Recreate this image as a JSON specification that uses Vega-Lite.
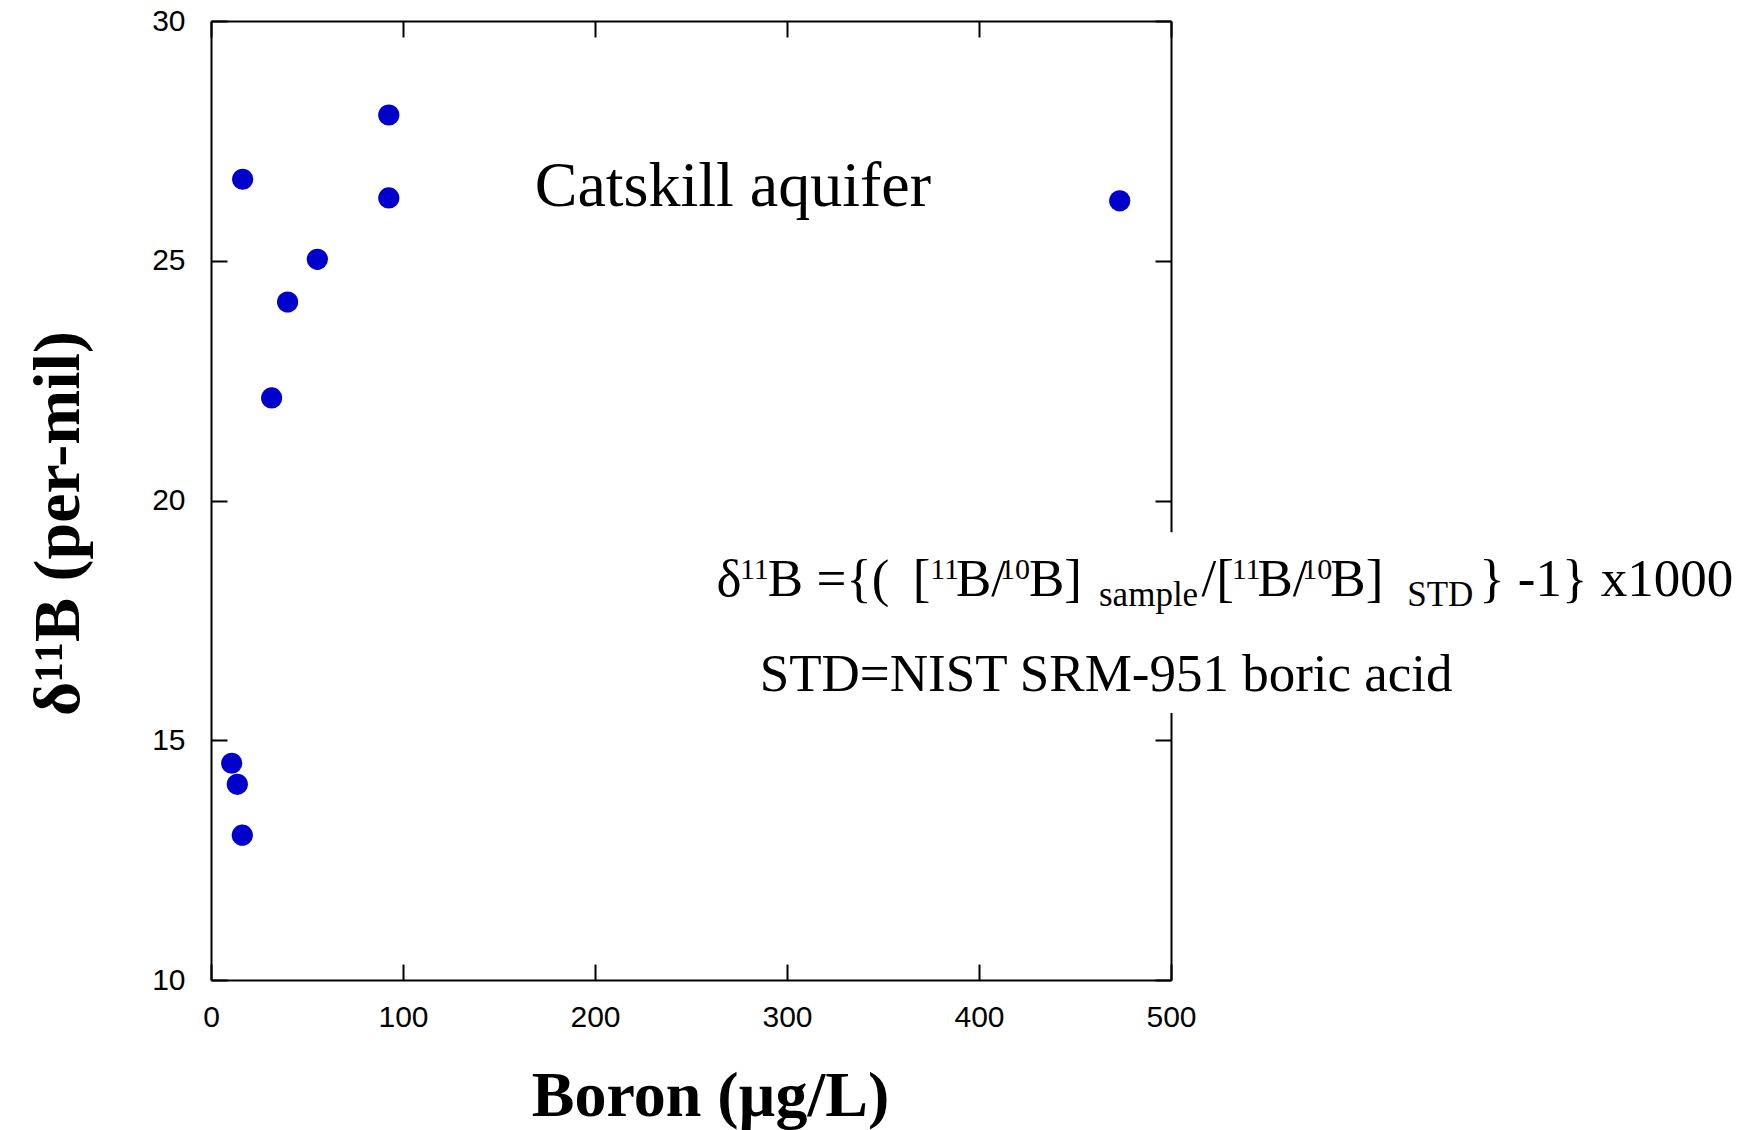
{
  "$schema": "https://vega.github.io/schema/vega-lite/v6.json",
  "width": 960,
  "height": 959,
  "autosize": {"type": "none"},
  "padding": {"left": 211, "top": 21, "right": 585, "bottom": 150},
  "background": "white",
  "config": {
    "view": {"stroke": null},
    "axis": {
      "domainColor": "black",
      "domainWidth": 2,
      "tickColor": "black",
      "tickWidth": 2,
      "tickSize": -16,
      "grid": false,
      "labelFont": "Liberation Sans",
      "labelFontSize": 30,
      "labelColor": "black",
      "titleFont": "Liberation Serif",
      "titleFontSize": 64,
      "titleFontWeight": "bold",
      "titleColor": "black"
    }
  },
  "datasets": {
    "samples": [
      {"boron": 92.6, "d11B": 28.04},
      {"boron": 16.5, "d11B": 26.70},
      {"boron": 92.6, "d11B": 26.31},
      {"boron": 473.3, "d11B": 26.25},
      {"boron": 55.4, "d11B": 25.03},
      {"boron": 39.9, "d11B": 24.14},
      {"boron": 31.6, "d11B": 22.14},
      {"boron": 10.8, "d11B": 14.52},
      {"boron": 13.7, "d11B": 14.08},
      {"boron": 16.3, "d11B": 13.02}
    ],
    "notes": [
      {"text": "Catskill aquifer", "x": 168.6, "y": 26.15, "kind": "heading"},
      {"text": "δ", "x": 263.3, "y": 18.0, "kind": "main"},
      {"text": "11", "x": 275.5, "y": 18.0, "kind": "sup"},
      {"text": "B ={(", "x": 290.0, "y": 18.0, "kind": "main"},
      {"text": "[", "x": 365.5, "y": 18.0, "kind": "main"},
      {"text": "11", "x": 374.6, "y": 18.0, "kind": "sup"},
      {"text": "B/", "x": 388.0, "y": 18.0, "kind": "main"},
      {"text": "10", "x": 410.9, "y": 18.0, "kind": "sup"},
      {"text": "B]", "x": 426.0, "y": 18.0, "kind": "main"},
      {"text": "sample", "x": 462.5, "y": 18.0, "kind": "sub"},
      {"text": "/[", "x": 515.9, "y": 18.0, "kind": "main"},
      {"text": "11", "x": 531.6, "y": 18.0, "kind": "sup"},
      {"text": "B/", "x": 545.0, "y": 18.0, "kind": "main"},
      {"text": "10", "x": 568.4, "y": 18.0, "kind": "sup"},
      {"text": "B]", "x": 583.0, "y": 18.0, "kind": "main"},
      {"text": "STD", "x": 623.0, "y": 18.0, "kind": "sub"},
      {"text": "} -1} x1000", "x": 660.5, "y": 18.0, "kind": "main"},
      {"text": "STD=NIST SRM-951 boric acid", "x": 285.8, "y": 16.03, "kind": "main"}
    ]
  },
  "resolve": {"axis": {"x": "independent", "y": "independent"}},
  "layer": [
    {
      "data": {"name": "samples"},
      "mark": {"type": "circle", "size": 450, "color": "#0000CC", "opacity": 1},
      "encoding": {
        "x": {
          "field": "boron",
          "type": "quantitative",
          "scale": {"domain": [0, 500], "nice": false, "zero": false},
          "axis": {
            "orient": "bottom",
            "values": [0, 100, 200, 300, 400, 500],
            "labelPadding": 38,
            "labelFlush": false,
            "title": "Boron (µg/L)",
            "titleX": 499,
            "titleY": 135,
            "titleAlign": "center",
            "titleBaseline": "alphabetic"
          }
        },
        "y": {
          "field": "d11B",
          "type": "quantitative",
          "scale": {"domain": [10, 30], "nice": false, "zero": false},
          "axis": {
            "orient": "left",
            "values": [10, 15, 20, 25, 30],
            "labelPadding": 42,
            "labelFlush": false,
            "title": "δ¹¹B (per-mil)",
            "titleFontSize": 66,
            "titleX": -133,
            "titleY": 502,
            "titleAngle": 270,
            "titleAlign": "center",
            "titleBaseline": "alphabetic"
          }
        }
      }
    },
    {
      "data": {"values": [{}]},
      "mark": {"type": "rect", "color": "white"},
      "encoding": {
        "x": {
          "datum": 450,
          "type": "quantitative",
          "axis": {"orient": "top", "values": [0, 100, 200, 300, 400, 500], "labels": false, "title": null}
        },
        "x2": {"datum": 550},
        "y": {
          "datum": 15.57,
          "type": "quantitative",
          "axis": {"orient": "right", "values": [10, 15, 20, 25, 30], "labels": false, "title": null}
        },
        "y2": {"datum": 19.34}
      }
    },
    {
      "data": {"name": "notes"},
      "transform": [{"filter": "datum.kind === 'heading'"}],
      "mark": {"type": "text", "font": "Liberation Serif", "fontSize": 64, "align": "left", "baseline": "alphabetic", "color": "black"},
      "encoding": {
        "x": {"field": "x", "type": "quantitative", "axis": null},
        "y": {"field": "y", "type": "quantitative", "axis": null},
        "text": {"field": "text"}
      }
    },
    {
      "data": {"name": "notes"},
      "transform": [{"filter": "datum.kind === 'main'"}],
      "mark": {"type": "text", "font": "Liberation Serif", "fontSize": 53, "align": "left", "baseline": "alphabetic", "color": "black"},
      "encoding": {
        "x": {"field": "x", "type": "quantitative", "axis": null},
        "y": {"field": "y", "type": "quantitative", "axis": null},
        "text": {"field": "text"}
      }
    },
    {
      "data": {"name": "notes"},
      "transform": [{"filter": "datum.kind === 'sup'"}],
      "mark": {"type": "text", "font": "Liberation Serif", "fontSize": 30, "align": "left", "baseline": "alphabetic", "dy": -17, "color": "black"},
      "encoding": {
        "x": {"field": "x", "type": "quantitative", "axis": null},
        "y": {"field": "y", "type": "quantitative", "axis": null},
        "text": {"field": "text"}
      }
    },
    {
      "data": {"name": "notes"},
      "transform": [{"filter": "datum.kind === 'sub'"}],
      "mark": {"type": "text", "font": "Liberation Serif", "fontSize": 35, "align": "left", "baseline": "alphabetic", "dy": 10, "color": "black"},
      "encoding": {
        "x": {"field": "x", "type": "quantitative", "axis": null},
        "y": {"field": "y", "type": "quantitative", "axis": null},
        "text": {"field": "text"}
      }
    }
  ]
}
